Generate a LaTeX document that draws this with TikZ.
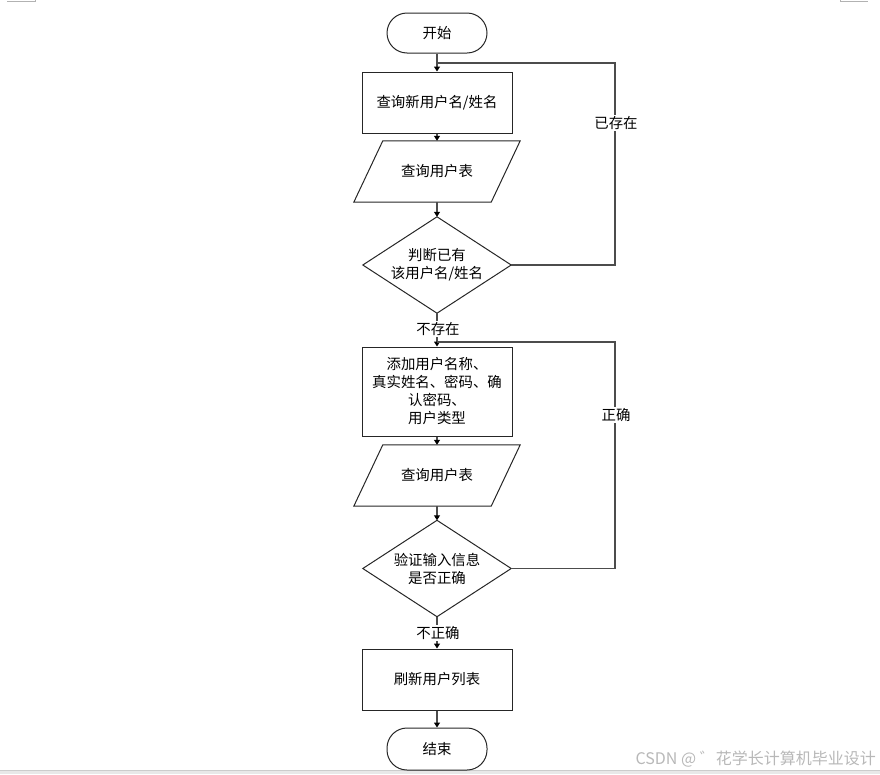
\documentclass[tikz,border=0pt]{standalone}
\usepackage{fontspec}
\setmainfont{Noto Sans CJK SC}
\newfontfamily\wmfont{Noto Sans CJK SC}
\usetikzlibrary{arrows.meta,calc}
\begin{document}
\begin{tikzpicture}[x=1pt,y=-1pt,
  every node/.style={font=\fontsize{14.4}{18}\selectfont, inner sep=0pt, align=center},
  shapeline/.style={draw=black!85, line width=1pt},
  termbox/.style={shapeline, rounded corners=20pt, minimum width=100pt, minimum height=40pt},
  procbox/.style={shapeline, minimum width=150pt},
  iobox/.style={minimum width=137pt, minimum height=61pt},
  decbox/.style={minimum width=148pt, minimum height=96pt},
  conn/.style={draw=black!70, line width=1.1pt},
  arr/.style={conn, -{Triangle[length=5pt,width=6pt,color=black]}},
  lab/.style={fill=white, inner sep=1pt}
]
\useasboundingbox (0,0) rectangle (880,774);
% page artefacts
\fill[black!9] (0,770) rectangle (880,774);
\draw[black!20, line width=1pt] (0,770.5) -- (880,770.5);
\draw[black!30, line width=0.8pt] (7,1.5) -- (35,1.5) -- (35,0);
\draw[black!30, line width=0.8pt] (840,0) -- (840,1.5) -- (868,1.5);

% nodes
\node[termbox] (start) at (437,33) {开始};
\node[procbox, minimum height=61pt] (b1) at (437,102.5) {查询新用户名/姓名};
\node[iobox] (p1) at (437,171.5) {查询用户表};
\node[decbox] (d1) at (437,265) {判断已有\\该用户名/姓名};
\node[procbox, minimum height=89pt] (b2) at (437,391.5) {添加用户名称、\\真实姓名、密码、确\\认密码、\\用户类型};
\node[iobox] (p2) at (437,475.5) {查询用户表};
\node[decbox] (d2) at (437,568.5) {验证输入信息\\是否正确};
\node[procbox, minimum height=61pt] (b3) at (437,679.5) {刷新用户列表};
\node[termbox, minimum height=42pt] (end) at (437,749) {结束};

% parallelogram and diamond outlines
\foreach \p in {p1,p2}{
  \draw[shapeline] ($(\p.north west)+(14.5,0)$) -- ($(\p.north east)+(14.5,0)$)
    -- ($(\p.south east)+(-14.5,0)$) -- ($(\p.south west)+(-14.5,0)$) -- cycle;
}
\foreach \d in {d1,d2}{
  \draw[shapeline] (\d.north) -- (\d.east) -- (\d.south) -- (\d.west) -- cycle;
}

% main flow
\draw[arr] (start) -- (b1);
\draw[arr] (b1) -- (p1);
\draw[arr] (p1) -- (d1);
\draw[arr] (d1) -- (b2);
\draw[arr] (b2) -- (p2);
\draw[arr] (p2) -- (d2);
\draw[arr] (d2) -- (b3);
\draw[arr] (b3) -- (end);

% feedback loops
\coordinate (j1) at (437,63);
\coordinate (r1) at (615,63);
\draw[conn] (d1.east) -| (r1) -- (j1);
\coordinate (j2) at (437,342);
\coordinate (r2) at (615,342);
\draw[conn] (d2.east) -| (r2) -- (j2);

% labels
\node[lab] (l1) at (616,123) {已存在};
\node[lab] (l2) at (616,415) {正确};
\node[lab] (l3) at (438,329) {不存在};
\node[lab] (l4) at (438,633) {不正确};

% watermark
\node[font=\wmfont\fontsize{16}{19}\selectfont, text=black!28, anchor=east] (wm) at (876,759) {CSDN @ ゛花学长计算机毕业设计};
\end{tikzpicture}
\end{document}
